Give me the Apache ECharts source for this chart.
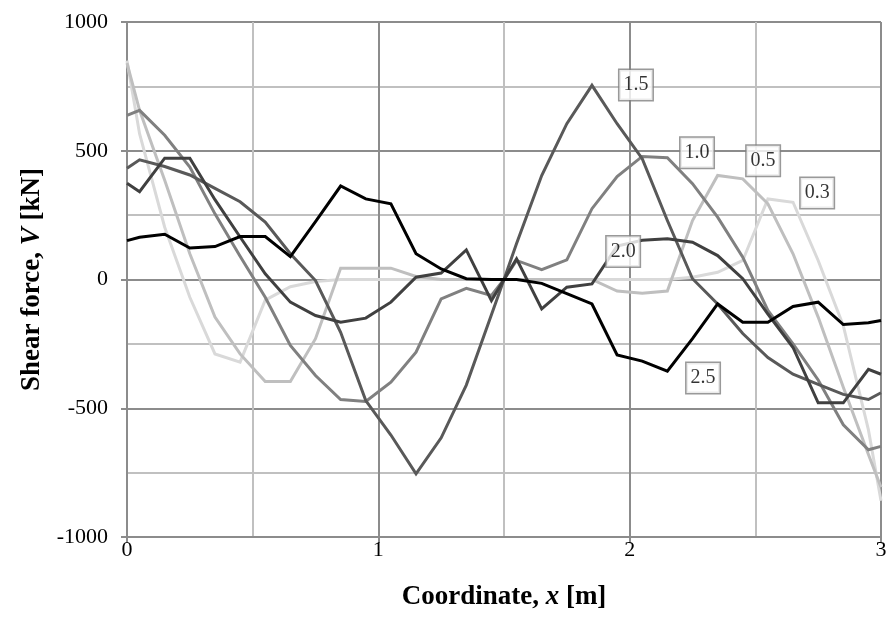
<!DOCTYPE html>
<html>
<head>
<meta charset="utf-8">
<script src="https://cdn.jsdelivr.net/npm/echarts@6/dist/echarts.min.js"></script>
<style>
html,body{margin:0;padding:0;background:#fff;}
#chart{width:891px;height:626px;}
</style>
</head>
<body>
<div id="chart"></div>
<script>
// x coordinates [m]
const xs = [0,0.05,0.15,0.25,0.35,0.45,0.55,0.65,0.75,0.85,0.95,1.05,1.15,1.25,1.35,1.45,1.5,1.55,1.65,1.75,1.85,1.95,2.05,2.15,2.25,2.35,2.45,2.55,2.65,2.75,2.85,2.95,3.0];

// Shear force values [kN] per series
const v03 = [850,566,203,-69,-289,-321,-80,-28,-8,0,0,0,0,0,0,0,0,0,0,0,0,0,0,0,9,28,74,313,300,74,-179,-584,-859];
const v05 = [840,657,385,100,-146,-289,-396,-396,-230,44,44,44,12,0,0,0,0,0,0,0,0,-45,-53,-45,229,404,391,294,100,-146,-418,-680,-807];
const v10 = [637,657,560,437,255,90,-69,-256,-373,-466,-474,-399,-282,-75,-34,-62,0,74,38,76,275,400,478,473,372,242,87,-120,-250,-390,-564,-661,-648];
const v15 = [432,465,439,406,354,302,223,100,-4,-205,-470,-604,-755,-615,-410,-137,0,140,404,605,754,605,469,229,3,-95,-210,-303,-368,-407,-446,-466,-440];
const v20 = [374,341,471,471,310,165,22,-88,-140,-166,-150,-88,9,25,115,-82,0,80,-114,-30,-17,130,152,158,145,93,3,-134,-264,-479,-479,-349,-368];
const v25 = [151,164,176,122,128,167,167,89,225,363,313,294,100,41,3,0,0,0,-15,-55,-95,-293,-317,-356,-230,-95,-166,-166,-105,-88,-175,-168,-159];

const seriesNames = ['0.3','0.5','1.0','1.5','2.0','2.5'];
const seriesValues = [v03, v05, v10, v15, v20, v25];
const seriesColors = ['#d9d9d9','#bfbfbf','#808080','#595959','#404040','#000000'];

// label anchors (data coordinates) for the boxed series tags
const labelX = [2.746, 2.531, 2.268, 2.025, 1.974, 2.292];
const labelY = [336, 461, 492, 755, 109, -383];

const xTicks = ['0','1','2','3'];
const yTicks = ['-1000','-500','0','500','1000'];

const FONT = '"Liberation Serif","Times New Roman",serif';

const chart = echarts.init(document.getElementById('chart'), null, {renderer:'canvas'});

const lineSeries = seriesValues.map((vals, i) => ({
  name: seriesNames[i],
  type: 'line',
  data: xs.map((x, j) => [x, vals[j]]),
  showSymbol: false,
  symbol: 'none',
  lineStyle: {color: seriesColors[i], width: 3, join: 'miter'},
  itemStyle: {color: seriesColors[i]},
  z: 3 + i,
  animation: false
}));

const labelSeries = {
  type: 'scatter',
  data: seriesNames.map((n, i) => ({value: [labelX[i], labelY[i]], name: n})),
  symbolSize: 0,
  z: 20,
  silent: true,
  animation: false,
  label: {
    show: true,
    position: 'inside',
    formatter: p => p.name,
    fontFamily: FONT,
    fontSize: 20,
    color: '#000',
    backgroundColor: '#fff',
    borderColor: '#808080',
    borderWidth: 1.5,
    padding: [6, 4, 4, 4]
  }
};

const titleRich = {
  b: {fontFamily: FONT, fontSize: 27, fontWeight: 'bold', color: '#000'},
  bi: {fontFamily: FONT, fontSize: 27, fontWeight: 'bold', fontStyle: 'italic', color: '#000'}
};

chart.setOption({
  backgroundColor: '#fff',
  animation: false,
  grid: {left: 127, right: 10, top: 22, bottom: 89, containLabel: false},
  xAxis: {
    type: 'value',
    min: 0, max: 3, interval: 1,
    name: '{b|Coordinate, }{bi|x}{b| [m]}',
    nameLocation: 'middle',
    nameGap: 47,
    nameTextStyle: {rich: titleRich},
    axisLine: {show: true, onZero: false, lineStyle: {color: '#8c8c8c', width: 2}},
    axisTick: {show: true, length: 6, lineStyle: {color: '#8c8c8c', width: 2}},
    axisLabel: {fontFamily: FONT, fontSize: 22, color: '#000', margin: 2,
      formatter: v => xTicks[Math.round(v)]},
    splitLine: {show: true, lineStyle: {color: '#8c8c8c', width: 2}},
    minorTick: {show: false, splitNumber: 2},
    minorSplitLine: {show: true, lineStyle: {color: '#c0c0c0', width: 2}}
  },
  yAxis: {
    type: 'value',
    min: -1000, max: 1000, interval: 500,
    name: '{b|Shear force, }{bi|V}{b| [kN]}',
    nameLocation: 'middle',
    nameGap: 76,
    nameRotate: 90,
    nameTextStyle: {rich: titleRich},
    axisLine: {show: true, onZero: false, lineStyle: {color: '#8c8c8c', width: 2}},
    axisTick: {show: true, length: 6, lineStyle: {color: '#8c8c8c', width: 2}},
    axisLabel: {fontFamily: FONT, fontSize: 22, color: '#000', margin: 19,
      formatter: v => yTicks[Math.round((v + 1000) / 500)]},
    splitLine: {show: true, lineStyle: {color: '#8c8c8c', width: 2}},
    minorTick: {show: false, splitNumber: 2},
    minorSplitLine: {show: true, lineStyle: {color: '#c0c0c0', width: 2}}
  },
  series: lineSeries.concat([labelSeries])
});
</script>
</body>
</html>
